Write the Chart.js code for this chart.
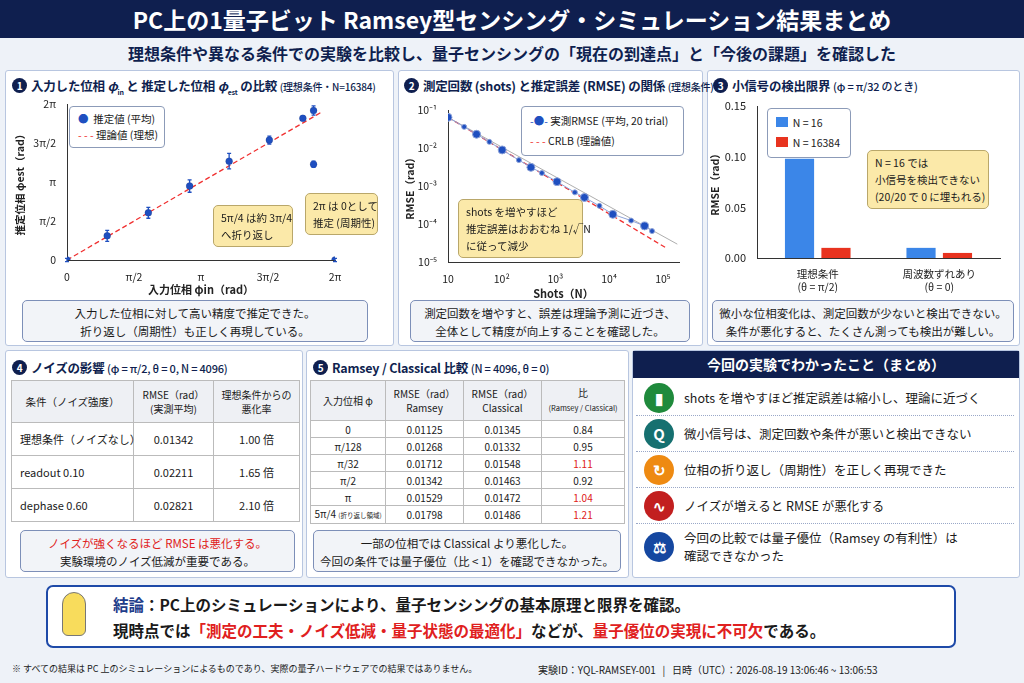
<!DOCTYPE html>
<html><head><meta charset="utf-8">
<script src="https://cdn.jsdelivr.net/npm/chart.js@4"></script>
<style>
*{box-sizing:border-box;margin:0;padding:0}
body{width:1024px;height:683px;background:#eef2f8;font-family:"Noto Sans CJK JP","Noto Sans",sans-serif;position:relative;overflow:hidden;color:#1a1a1a}
.abs{position:absolute}
#hdr{left:0;top:0;width:1024px;height:38px;background:#0f1f4f;color:#fff;font-size:23px;font-weight:700;text-align:center;line-height:38px}
#sub{left:0;top:38px;width:1024px;height:30px;font-size:16px;font-weight:700;color:#0f1f4f;text-align:center;line-height:30px}
.panel{background:#fff;border:1.5px solid #b8c6e0;border-radius:3px}
.ttl{font-size:12.5px;font-weight:700;color:#0f1f4f;white-space:nowrap;letter-spacing:-0.2px}
.ttl small{font-size:10px;font-weight:500}
.num{display:inline-block;width:15px;height:15px;border-radius:8px;background:#0f1f4f;color:#fff;font-size:10px;text-align:center;line-height:15px;margin-right:4px;vertical-align:1px}
.note{background:#f2f4f8;border:1.5px solid #7d8fb8;border-radius:5px;font-size:11.5px;text-align:center;line-height:18px;padding-top:3px;white-space:nowrap}
.call{background:#fbe9a9;border:1px solid #b9a76a;border-radius:5px;font-size:10.5px;line-height:17px;padding:3px 7px;white-space:nowrap}
.leg{background:#fff;border:1px solid #8c9bb8;border-radius:4px;font-size:10.5px;line-height:16px;padding:4px 8px;white-space:nowrap}
table{border-collapse:collapse;font-size:11px;table-layout:fixed}
td,th{border:1px solid #bbb;text-align:center;font-weight:400;padding:0;white-space:nowrap}
th{background:#eef0f4;font-size:10px;line-height:14px}
.red{color:#e02020}
.item{display:flex;align-items:center;height:36px;border-bottom:1px dotted #9aa8c8;font-size:12.5px}
.ic{width:30px;height:30px;border-radius:15px;margin:0 10px 0 8px;flex:none;color:#fff;font-size:15px;text-align:center;line-height:30px;font-weight:700}
</style></head><body>
<div id="hdr" class="abs">PC上の1量子ビット Ramsey型センシング・シミュレーション結果まとめ</div>
<div id="sub" class="abs">理想条件や異なる条件での実験を比較し、量子センシングの「現在の到達点」と「今後の課題」を確認した</div>

<div class="abs panel" style="left:5px;top:70px;width:389px;height:276px"></div>
<div class="abs panel" style="left:398px;top:70px;width:305px;height:276px"></div>
<div class="abs panel" style="left:707px;top:70px;width:313px;height:276px"></div>

<div class="abs ttl" style="left:12px;top:76px"><span class="num">1</span>入力した位相 <i>φ</i><sub style="font-size:7px">in</sub> と 推定した位相 <i>φ</i><sub style="font-size:7px">est</sub> の比較 <small>(理想条件・N=16384)</small></div>
<div class="abs ttl" style="left:404px;top:76px"><span class="num">2</span>測定回数 (shots) と推定誤差 (RMSE) の関係 <small>(理想条件)</small></div>
<div class="abs ttl" style="left:713px;top:76px"><span class="num">3</span>小信号の検出限界 <small style="font-size:11px">(φ = π/32 のとき)</small></div>

<canvas id="c1" class="abs" style="left:10px;top:95px;width:380px;height:205px"></canvas>
<canvas id="c2" class="abs" style="left:400px;top:100px;width:300px;height:200px"></canvas>
<canvas id="c3" class="abs" style="left:705px;top:96px;width:310px;height:200px"></canvas>

<div class="abs leg" style="left:69px;top:106px;width:96px"><span style="color:#1f4fc0">●</span>&nbsp; 推定値 (平均)<br><span style="color:#f03030">- - -</span> 理論値 (理想)</div>
<div class="abs call" style="left:213px;top:205px;width:80px">5π/4 は約 3π/4<br>へ折り返し</div>
<div class="abs call" style="left:305px;top:193px;width:73px">2π は 0として<br>推定 (周期性)</div>
<div class="abs note" style="left:22px;top:300px;width:346px;height:42px">入力した位相に対して高い精度で推定できた。<br>折り返し（周期性）も正しく再現している。</div>

<div class="abs leg" style="left:521px;top:106px;width:163px;line-height:20px"><span style="color:#1f4fc0">-●-</span> 実測RMSE (平均, 20 trial)<br><span style="color:#f03030">- - -</span> CRLB (理論値)</div>
<div class="abs call" style="left:458px;top:199px;width:125px">shots を増やすほど<br>推定誤差はおおむね 1/√N<br>に従って減少</div>
<div class="abs note" style="left:410px;top:300px;width:280px;height:42px">測定回数を増やすと、誤差は理論予測に近づき、<br>全体として精度が向上することを確認した。</div>

<div class="abs leg" style="left:767px;top:108px;width:84px;line-height:20px"><span style="display:inline-block;width:12px;height:10px;background:#3b86e8"></span>&nbsp; N = 16<br><span style="display:inline-block;width:12px;height:10px;background:#e8331f"></span>&nbsp; N = 16384</div>
<div class="abs call" style="left:867px;top:150px;width:122px">N = 16 では<br>小信号を検出できない<br>(20/20 で 0 に埋もれる)</div>
<div class="abs note" style="left:712px;top:300px;width:302px;height:42px">微小な位相変化は、測定回数が少ないと検出できない。<br>条件が悪化すると、たくさん測っても検出が難しい。</div>

<div class="abs panel" style="left:5px;top:350px;width:298px;height:228px"></div>
<div class="abs panel" style="left:306px;top:350px;width:323px;height:228px"></div>
<div class="abs ttl" style="left:12px;top:358px"><span class="num">4</span>ノイズの影響 <small style="font-size:11px">(φ = π/2, θ = 0, N = 4096)</small></div>
<div class="abs ttl" style="left:313px;top:358px"><span class="num">5</span>Ramsey / Classical 比較 <small style="font-size:11px">(N = 4096, θ = 0)</small></div>
<table id="t4" class="abs" style="left:11px;top:380px;width:288px"></table>
<table id="t5" class="abs" style="left:310px;top:380px;width:314px"></table>
<div class="abs note" style="left:20px;top:530px;width:275px;height:42px"><span class="red">ノイズが強くなるほど RMSE は悪化する。</span><br>実験環境のノイズ低減が重要である。</div>
<div class="abs note" style="left:313px;top:530px;width:308px;height:42px">一部の位相では Classical より悪化した。<br>今回の条件では量子優位（比 &lt; 1）を確認できなかった。</div>

<div class="abs panel" style="left:632px;top:350px;width:388px;height:228px"></div>
<div class="abs" style="left:633px;top:351px;width:386px;height:27px;background:#0f1f4f;color:#fff;font-weight:700;font-size:14px;text-align:center;line-height:27px">今回の実験でわかったこと（まとめ）</div>
<div class="abs" style="left:636px;top:380px;width:378px">
<div class="item"><div class="ic" style="background:#1f8a3c">▮</div>shots を増やすほど推定誤差は縮小し、理論に近づく</div>
<div class="item"><div class="ic" style="background:#167070">Q</div>微小信号は、測定回数や条件が悪いと検出できない</div>
<div class="item"><div class="ic" style="background:#ee8a12">↻</div>位相の折り返し（周期性）を正しく再現できた</div>
<div class="item"><div class="ic" style="background:#c21f1f">∿</div>ノイズが増えると RMSE が悪化する</div>
<div class="item" style="height:46px;border:none;line-height:18px"><div class="ic" style="background:#1547a0">⚖</div>今回の比較では量子優位（Ramsey の有利性）は<br>確認できなかった</div>
</div>

<div class="abs" style="left:46px;top:585px;width:910px;height:63px;background:#fff;border:2px solid #1e4aa8;border-radius:7px"></div>
<div class="abs" style="left:62px;top:592px;width:24px;height:44px;border-radius:12px 12px 6px 6px;background:#f8dc5c;border:1.5px solid #777"></div>
<div class="abs" style="left:113px;top:593px;font-size:15.5px;font-weight:700;white-space:nowrap"><span style="color:#1e3c8a">結論</span>：PC上のシミュレーションにより、量子センシングの基本原理と限界を確認。</div>
<div class="abs" style="left:113px;top:619px;font-size:15.5px;font-weight:700;white-space:nowrap">現時点では<span class="red">「測定の工夫・ノイズ低減・量子状態の最適化」</span>などが、<span class="red">量子優位の実現に不可欠</span>である。</div>
<div class="abs" style="left:12px;top:662px;font-size:9px">※ すべての結果は PC 上のシミュレーションによるものであり、実際の量子ハードウェアでの結果ではありません。</div>
<div class="abs" style="left:538px;top:662px;font-size:10px">実験ID：YQL-RAMSEY-001 &nbsp; | &nbsp; 日時（UTC）：2026-08-19 13:06:46 ~ 13:06:53</div>

<script>
// ---- data (phases in units of π) ----
const phaseIn  = [0, 0.30, 0.607, 0.915, 1.21, 1.51, 1.76, 1.84, 1.84, 2.0];
const phaseEst = [0, 0.31, 0.606, 0.95, 1.27, 1.54, 1.82, 1.92, 1.23, 0];
const phaseErr = [0.02, 0.07, 0.07, 0.08, 0.1, 0.05, 0.03, 0.06, 0.04, 0.02];
const theoryX  = [0, 1.9];
const phaseTicks = {0:'0',0.5:'π/2',1:'π',1.5:'3π/2',2:'2π'};

const shots = [10,20,34,59,102,209,350,560,1070,2300,3470,6600,11700,25700,45700,63000];
const rmse  = [0.064,0.036,0.023,0.0145,0.0089,0.0048,0.0031,0.0022,0.0013,0.00068,0.0005,0.0003,0.00018,0.000123,0.000089,0.000065];
const fitShots = [10, 186000];
const fitRmse  = [0.064, 0.0000295];
const crlbShots = [10, 112000];
const crlbRmse  = [0.064, 0.000024];

const barCats = [['理想条件','(θ = π/2)'],['周波数ずれあり','(θ = 0)']];
const rmseN16 = [0.098, 0.010];
const rmseN16384 = [0.010, 0.005];

const noiseHead = ['条件（ノイズ強度）','RMSE（rad）<br>(実測平均)','理想条件からの<br>悪化率'];
const noiseConds = ['理想条件（ノイズなし）','readout 0.10','dephase 0.60'];
const noiseRmse = ['0.01342','0.02211','0.02821'];
const noiseRate = ['1.00 倍','1.65 倍','2.10 倍'];

const cmpHead = ['入力位相 φ','RMSE（rad）<br>Ramsey','RMSE（rad）<br>Classical','比<br><span style="font-size:7.5px">(Ramsey / Classical)</span>'];
const cmpPhase = ['0','π/128','π/32','π/2','π','5π/4 <span style="font-size:6.5px">(折り返し領域)</span>'];
const cmpRamsey = ['0.01125','0.01268','0.01712','0.01342','0.01529','0.01798'];
const cmpClassical = ['0.01345','0.01332','0.01548','0.01463','0.01472','0.01486'];
const cmpRatio = ['0.84','0.95','1.11','0.92','1.04','1.21'];

// ---- tables ----
let h='<colgroup><col style="width:122px"><col style="width:80px"><col style="width:86px"></colgroup><tr>'+noiseHead.map((t,i)=>`<th style="height:42px;${i==0?'font-size:10.5px':''}">${t}</th>`).join('')+'</tr>';
noiseConds.forEach((c,i)=>{h+=`<tr style="height:33px"><td style="text-align:left;padding-left:8px">${c}</td><td>${noiseRmse[i]}</td><td>${noiseRate[i]}</td></tr>`;});
document.getElementById('t4').innerHTML=h;
h='<colgroup><col style="width:75px"><col style="width:78px"><col style="width:78px"><col style="width:83px"></colgroup><tr>'+cmpHead.map(t=>`<th style="height:40px">${t}</th>`).join('')+'</tr>';
cmpPhase.forEach((p,i)=>{h+=`<tr style="height:17px;font-size:10px;line-height:15px"><td>${p}</td><td>${cmpRamsey[i]}</td><td>${cmpClassical[i]}</td><td class="${parseFloat(cmpRatio[i])>1?'red':''}">${cmpRatio[i]}</td></tr>`;});
document.getElementById('t5').innerHTML=h;

// ---- charts ----
Chart.defaults.font.family='"Noto Sans CJK JP","Noto Sans",sans-serif';
Chart.defaults.font.size=10.5;
Chart.defaults.color='#222';
const fixW=w=>a=>{a.width=w};
const fixH=hh=>a=>{a.height=hh};

const errPlugin={id:'err',afterDatasetsDraw(ch){
  const ctx=ch.ctx,xs=ch.scales.x,ys=ch.scales.y;ctx.save();ctx.strokeStyle='#1f4fc0';ctx.lineWidth=1.3;
  phaseIn.forEach((x,i)=>{const px=xs.getPixelForValue(x),y1=ys.getPixelForValue(phaseEst[i]-phaseErr[i]),y2=ys.getPixelForValue(phaseEst[i]+phaseErr[i]);
    ctx.beginPath();ctx.moveTo(px,y1);ctx.lineTo(px,y2);ctx.moveTo(px-2,y1);ctx.lineTo(px+2,y1);ctx.moveTo(px-2,y2);ctx.lineTo(px+2,y2);ctx.stroke();});
  ctx.restore();}};

new Chart(document.getElementById('c1'),{type:'scatter',
 data:{datasets:[
  {label:'推定値 (平均)',data:phaseIn.map((x,i)=>({x,y:phaseEst[i]})),backgroundColor:'#1f4fc0',pointRadius:3.5,order:0},
  {label:'理論値 (理想)',type:'line',data:theoryX.map(x=>({x,y:x})),borderColor:'#f03030',borderDash:[5,3],borderWidth:1.3,pointRadius:0,order:1}]},
 options:{responsive:false,animation:false,layout:{padding:{top:9,right:55}},
  plugins:{legend:{display:false},tooltip:{enabled:false}},
  scales:{x:{min:0,max:2,afterFit:fixH(40),grid:{display:false},border:{color:'#333'},ticks:{stepSize:0.5,callback:v=>phaseTicks[v]??''},title:{display:true,text:'入力位相 φin（rad）',padding:{top:2},font:{size:11,weight:'bold'}}},
   y:{min:0,max:2,afterFit:fixW(57),grid:{display:false},border:{color:'#333'},ticks:{stepSize:0.5,callback:v=>phaseTicks[v]??''},title:{display:true,text:'推定位相 φest（rad）',font:{size:10.5,weight:'bold'}}}}},
 plugins:[errPlugin]});

const sup={'-':'⁻','0':'⁰','1':'¹','2':'²','3':'³','4':'⁴','5':'⁵'};
const pow=v=>{const e=Math.round(Math.log10(v));if(Math.abs(Math.log10(v)-e)>1e-6)return '';if(e==1)return '10';return '10'+String(e).split('').map(c=>sup[c]).join('');};
new Chart(document.getElementById('c2'),{type:'scatter',
 data:{datasets:[
  {label:'実測RMSE (平均, 20 trial)',type:'line',data:shots.map((x,i)=>({x,y:rmse[i]})),borderColor:'#8da2d8',borderWidth:1,backgroundColor:'#1f4fc0',pointRadius:shots.map((x,i)=>i%2?2.5:4),order:0},
  {label:'fit',type:'line',data:fitShots.map((x,i)=>({x,y:fitRmse[i]})),borderColor:'#999',borderWidth:0.8,pointRadius:0,order:2},
  {label:'CRLB (理論値)',type:'line',data:crlbShots.map((x,i)=>({x,y:crlbRmse[i]})),borderColor:'#f03030',borderDash:[5,3],borderWidth:1.3,pointRadius:0,order:1}]},
 options:{responsive:false,animation:false,layout:{padding:{top:10,right:21}},
  plugins:{legend:{display:false},tooltip:{enabled:false}},
  scales:{x:{type:'logarithmic',min:10,max:200000,afterFit:fixH(38),grid:{display:false},border:{color:'#333'},ticks:{autoSkip:false,maxRotation:0,callback:pow},title:{display:true,text:'Shots（N）',padding:0,font:{size:11,weight:'bold'}}},
   y:{type:'logarithmic',min:1e-5,max:1e-1,afterFit:fixW(48),grid:{display:false},border:{color:'#333'},ticks:{autoSkip:false,callback:pow},title:{display:true,text:'RMSE（rad）',font:{size:10.5,weight:'bold'}}}}}});

new Chart(document.getElementById('c3'),{type:'bar',
 data:{labels:barCats,datasets:[
  {label:'N = 16',data:rmseN16,backgroundColor:'#3b86e8'},
  {label:'N = 16384',data:rmseN16384,backgroundColor:'#e8331f'}]},
 options:{responsive:false,animation:false,layout:{padding:{top:10,right:15}},categoryPercentage:0.6,barPercentage:0.8,
  plugins:{legend:{display:false},tooltip:{enabled:false}},
  scales:{x:{afterFit:fixH(38),grid:{display:false},border:{color:'#333'},ticks:{font:{size:10.5},padding:2}},
   y:{min:0,max:0.15,afterFit:fixW(52),grid:{display:false},border:{color:'#333'},ticks:{stepSize:0.05,callback:v=>v.toFixed(2),font:{size:11}},title:{display:true,text:'RMSE（rad）',font:{size:10.5,weight:'bold'}}}}}});
</script>
</body></html>
